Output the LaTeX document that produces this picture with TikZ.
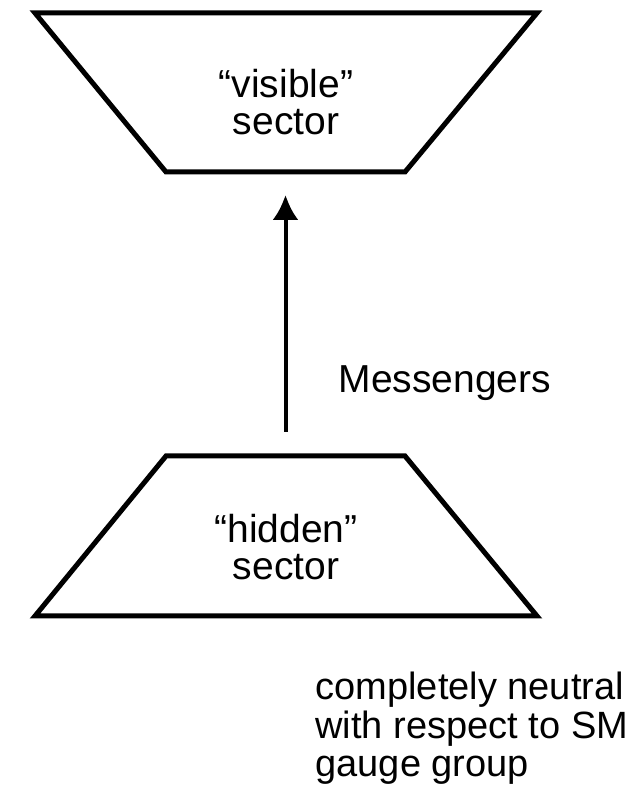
\documentclass[tikz,border=0pt]{standalone}
\usepackage{fontspec}
\setmainfont{Liberation Sans}
\usetikzlibrary{arrows.meta,positioning}

\begin{document}
\begin{tikzpicture}[x=1pt, y=1pt,
    sector/.style={draw, line width=5pt, line join=miter},
    sectortext/.style={align=center, font=\fontsize{39}{37}\selectfont},
    note/.style={align=left, font=\fontsize{38}{38.5}\selectfont}]
    \useasboundingbox (0,0) rectangle (635,787);

    % the two sectors
    \draw[sector] (35,774) -- (537,774) -- (405,615) -- (166,615) -- cycle;
    \coordinate (visible) at (285.5,615);
    \draw[sector] (166,331) -- (405,331) -- (537,171) -- (35,171) -- cycle;
    \coordinate (hidden) at (285.5,331);
    \node[sectortext, anchor=base] (visiblelabel) at (286,652) {“visible”\\sector};
    \node[sectortext, anchor=base] (hiddenlabel) at (286,207) {“hidden”\\sector};

    % messengers between them
    \draw[-{Latex[length=25pt,width=26pt]}, line width=4pt,
        shorten <=24pt, shorten >=23pt] (hidden) -- (visible);
    \node[sectortext, anchor=base west] (messengers) at (335,394) {Messengers};

    \node[note, anchor=base west] (neutral) at (312,10) {completely neutral\\with respect to SM\\gauge group};
\end{tikzpicture}
\end{document}
